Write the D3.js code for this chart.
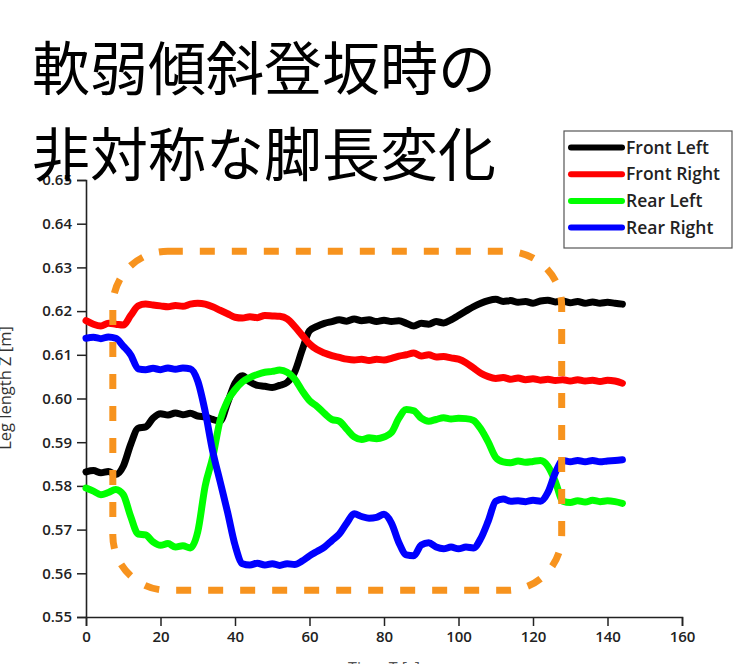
<!DOCTYPE html>
<html>
<head>
<meta charset="utf-8">
<script src="https://cdn.jsdelivr.net/npm/d3@7"></script>
<style>
  html, body { margin: 0; padding: 0; background: #fff; }
  svg { display: block; }
</style>
</head>
<body>
<svg id="chart" width="748" height="664"></svg>
<script>
// Time samples [s]
const time = [
  0, 2, 4, 6, 8, 10, 12, 14, 16, 18, 20, 22, 24, 26, 28, 30, 32, 34, 36, 38,
  40, 42, 44, 46, 48, 50, 52, 54, 56, 58, 60, 62, 64, 66, 68, 70, 72, 74, 76, 78,
  80, 82, 84, 86, 88, 90, 92, 94, 96, 98, 100, 102, 104, 106, 108, 110, 112, 114, 116, 118,
  120, 122, 124, 126, 128, 130, 132, 134, 136, 138, 140, 142, 144
];

// Leg length Z [m] per leg
const frontLeft = [
  0.5832, 0.5835, 0.5830, 0.5833, 0.5826, 0.5845, 0.5895, 0.5932, 0.5935, 0.5955,
  0.5965, 0.5962, 0.5967, 0.5963, 0.5966, 0.5960, 0.5958, 0.5952, 0.5948, 0.5990,
  0.6035, 0.6052, 0.6038, 0.6030, 0.6028, 0.6025, 0.6030, 0.6037, 0.6060, 0.6110,
  0.6155, 0.6165, 0.6172, 0.6176, 0.6180, 0.6177, 0.6182, 0.6178, 0.6180, 0.6176,
  0.6179, 0.6176, 0.6178, 0.6172, 0.6166, 0.6172, 0.6170, 0.6176, 0.6173, 0.6180,
  0.6190, 0.6200, 0.6210, 0.6218, 0.6224, 0.6227, 0.6222, 0.6224, 0.6220, 0.6222,
  0.6218, 0.6223, 0.6225, 0.6221, 0.6223, 0.6219, 0.6222, 0.6218, 0.6221, 0.6218,
  0.6220, 0.6218, 0.6216
];
const frontRight = [
  0.6178, 0.6170, 0.6166, 0.6172, 0.6170, 0.6168, 0.6190, 0.6212, 0.6216, 0.6214,
  0.6212, 0.6210, 0.6213, 0.6211, 0.6216, 0.6218, 0.6216, 0.6210, 0.6202, 0.6194,
  0.6186, 0.6184, 0.6187, 0.6185, 0.6190, 0.6189, 0.6188, 0.6182, 0.6165, 0.6145,
  0.6125, 0.6112, 0.6104, 0.6098, 0.6094, 0.6090, 0.6088, 0.6090, 0.6087, 0.6090,
  0.6088, 0.6092, 0.6097, 0.6100, 0.6104, 0.6097, 0.6100, 0.6095, 0.6096, 0.6093,
  0.6090, 0.6082, 0.6070, 0.6058, 0.6050, 0.6046, 0.6048, 0.6044, 0.6047, 0.6043,
  0.6045, 0.6042, 0.6044, 0.6041, 0.6043, 0.6040, 0.6043, 0.6040, 0.6042, 0.6039,
  0.6042, 0.6040, 0.6035
];
const rearLeft = [
  0.5795, 0.5788, 0.5780, 0.5785, 0.5792, 0.5780, 0.5730, 0.5690, 0.5688, 0.5672,
  0.5664, 0.5668, 0.5660, 0.5663, 0.5658, 0.5695, 0.5800, 0.5865, 0.5950, 0.5995,
  0.6020, 0.6038, 0.6048, 0.6055, 0.6060, 0.6062, 0.6065, 0.6060, 0.6045, 0.6018,
  0.5995, 0.5982, 0.5966, 0.5952, 0.5948, 0.5930, 0.5912, 0.5906, 0.5910, 0.5908,
  0.5912, 0.5922, 0.5955, 0.5975, 0.5972, 0.5955, 0.5948, 0.5952, 0.5956, 0.5953,
  0.5955, 0.5954, 0.5950, 0.5930, 0.5900, 0.5865, 0.5855, 0.5853, 0.5857, 0.5854,
  0.5856, 0.5858, 0.5845, 0.5810, 0.5765, 0.5762, 0.5766, 0.5763, 0.5767, 0.5764,
  0.5766, 0.5764, 0.5760
];
const rearRight = [
  0.6138, 0.6140, 0.6137, 0.6141, 0.6138, 0.6120, 0.6100, 0.6068, 0.6066, 0.6069,
  0.6066, 0.6070, 0.6067, 0.6070, 0.6068, 0.6040, 0.5970, 0.5880, 0.5810, 0.5740,
  0.5665, 0.5622, 0.5619, 0.5623, 0.5619, 0.5622, 0.5618, 0.5622, 0.5620, 0.5628,
  0.5640, 0.5650, 0.5660, 0.5675, 0.5690, 0.5715, 0.5736, 0.5730, 0.5726, 0.5728,
  0.5735, 0.5715, 0.5670, 0.5642, 0.5640, 0.5665, 0.5670, 0.5660, 0.5656, 0.5660,
  0.5656, 0.5660, 0.5658, 0.5680, 0.5720, 0.5765, 0.5770, 0.5765, 0.5766, 0.5764,
  0.5767, 0.5765, 0.5785, 0.5830, 0.5858, 0.5855, 0.5858, 0.5855, 0.5858, 0.5855,
  0.5857, 0.5858, 0.5860
];

const seriesNames = ["Front Left", "Front Right", "Rear Left", "Rear Right"];
const seriesValues = [frontLeft, frontRight, rearLeft, rearRight];
const seriesColors = ["#000000", "#ff0000", "#00ff00", "#0000ff"];

const xTicks = [0, 20, 40, 60, 80, 100, 120, 140, 160];
const xMinorTicks = [10, 30, 50, 70, 90, 110, 130, 150];
const yTicks = [0.55, 0.56, 0.57, 0.58, 0.59, 0.60, 0.61, 0.62, 0.63, 0.64, 0.65];
const yMinorTicks = [0.555, 0.565, 0.575, 0.585, 0.595, 0.605, 0.615, 0.625, 0.635, 0.645];

const titleLines = ["軟弱傾斜登坂時の", "非対称な脚長変化"];
const xTitle = "Time T [s]";
const yTitle = "Leg length Z [m]";

const svg = d3.select("#chart");

const x = d3.scaleLinear().domain([0, 160]).range([86, 682]);
const y = d3.scaleLinear().domain([0.55, 0.65]).range([617, 180]);

const tickFont = "'Open Sans', 'Liberation Sans', sans-serif";

// Axes
const gx = svg.append("g").attr("transform", `translate(0,${y(0.55)})`);
gx.call(d3.axisBottom(x).tickValues(xMinorTicks).tickSize(6).tickFormat(""));
gx.call(d3.axisBottom(x).tickValues(xTicks).tickSize(9).tickPadding(5).tickFormat(d3.format("d")));

const gy = svg.append("g").attr("transform", `translate(${x(0)},0)`);
gy.call(d3.axisLeft(y).tickValues(yMinorTicks).tickSize(5).tickFormat(""));
gy.call(d3.axisLeft(y).tickValues(yTicks).tickSize(9).tickPadding(5).tickFormat(d3.format(".2f")));

svg.selectAll(".domain").attr("stroke", "#222").attr("stroke-width", 1.6);
svg.selectAll(".tick line").attr("stroke", "#222").attr("stroke-width", 1.5);
svg.selectAll(".tick text")
  .attr("fill", "#222")
  .style("font-family", tickFont)
  .style("font-weight", 600)
  .style("font-size", "15px");

// Axis titles (partly outside the drawing area)
svg.append("text")
  .attr("x", x(80)).attr("y", 674)
  .attr("text-anchor", "middle")
  .attr("fill", "#555")
  .style("font-family", tickFont)
  .style("font-size", "16px")
  .text(xTitle);

svg.append("text")
  .attr("transform", `translate(11,388) rotate(-90)`)
  .attr("text-anchor", "middle")
  .attr("fill", "#333")
  .style("font-family", tickFont)
  .style("font-size", "16.5px")
  .text(yTitle);

// Series lines
const line = d3.line()
  .x((d, i) => x(time[i]))
  .y(d => y(d))
  .curve(d3.curveMonotoneX);

svg.append("g").selectAll("path")
  .data(seriesValues)
  .join("path")
  .attr("d", line)
  .attr("fill", "none")
  .attr("stroke", (d, i) => seriesColors[i])
  .attr("stroke-width", 7)
  .attr("stroke-linejoin", "round")
  .attr("stroke-linecap", "round");

// Highlighted interval
svg.append("rect")
  .attr("x", x(7.2)).attr("y", y(0.6337))
  .attr("width", x(127.7) - x(7.2))
  .attr("height", y(0.5561) - y(0.6337))
  .attr("rx", 55).attr("ry", 55)
  .attr("fill", "none")
  .attr("stroke", "#f7931e")
  .attr("stroke-width", 7)
  .attr("stroke-dasharray", "15,17");

// Legend
const legend = svg.append("g");
legend.append("rect")
  .attr("x", 564).attr("y", 131)
  .attr("width", 168).attr("height", 117)
  .attr("fill", "#fff")
  .attr("stroke", "#555")
  .attr("stroke-width", 1.2);

const rows = legend.selectAll("g.row")
  .data(seriesNames)
  .join("g")
  .attr("class", "row")
  .attr("transform", (d, i) => `translate(0,${147.5 + i * 26.7})`);

rows.append("line")
  .attr("x1", 571).attr("x2", 622)
  .attr("stroke", (d, i) => seriesColors[i])
  .attr("stroke-width", 6)
  .attr("stroke-linecap", "round");

rows.append("text")
  .attr("x", 626).attr("dy", "0.35em")
  .attr("fill", "#222")
  .style("font-family", tickFont)
  .style("font-weight", 600)
  .style("font-size", "17.5px")
  .text(d => d);

// Title
svg.append("g").selectAll("text")
  .data(titleLines)
  .join("text")
  .attr("x", 32)
  .attr("y", (d, i) => 90 + i * 86)
  .attr("fill", "#000")
  .style("font-family", "'Noto Sans CJK JP', 'Noto Sans CJK SC', sans-serif")
  .style("font-weight", 400)
  .style("font-size", "58px")
  .text(d => d);
</script>
</body>
</html>
